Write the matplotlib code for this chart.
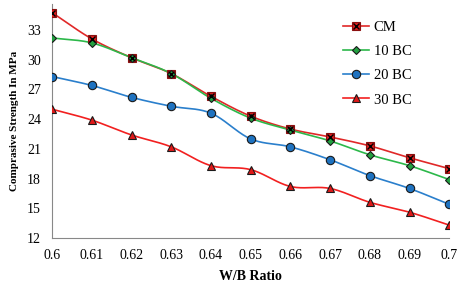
import matplotlib.pyplot as plt
import numpy as np
from matplotlib.lines import Line2D

plt.rcParams['font.family'] = ['Liberation Serif', 'DejaVu Serif']

wb_ratio = [0.60, 0.61, 0.62, 0.63, 0.64, 0.65, 0.66, 0.67, 0.68, 0.69, 0.70]
cm = [34.75, 32.1, 30.2, 28.6, 26.3, 24.3, 23.0, 22.2, 21.3, 20.1, 19.0]
bc10 = [32.2, 31.7, 30.2, 28.6, 26.1, 24.1, 22.9, 21.8, 20.4, 19.3, 17.9]
bc20 = [28.3, 27.4, 26.2, 25.3, 24.6, 22.0, 21.2, 19.9, 18.3, 17.0, 15.4]
bc30 = [25.0, 23.9, 22.4, 21.2, 19.3, 18.9, 17.2, 17.0, 15.6, 14.6, 13.3]
yticks = [12, 15, 18, 21, 24, 27, 30, 33]


def smooth(x, y, n=20):
    # catmull-rom curve through the points, like excel's smoothed line
    x = np.asarray(x, float)
    y = np.asarray(y, float)
    px = np.concatenate([[2 * x[0] - x[1]], x, [2 * x[-1] - x[-2]]])
    py = np.concatenate([[2 * y[0] - y[1]], y, [2 * y[-1] - y[-2]]])
    xs, ys = [], []
    t = np.linspace(0, 1, n, endpoint=False)
    for i in range(1, len(px) - 2):
        for p, out in ((px, xs), (py, ys)):
            p0, p1, p2, p3 = p[i - 1], p[i], p[i + 1], p[i + 2]
            out.extend(0.5 * (2 * p1 + (-p0 + p2) * t + (2 * p0 - 5 * p1 + 4 * p2 - p3) * t ** 2
                              + (-p0 + 3 * p1 - 3 * p2 + p3) * t ** 3))
    xs.append(x[-1])
    ys.append(y[-1])
    return xs, ys


fig = plt.figure(figsize=(4.66, 2.85), dpi=100)
ax = fig.add_axes([0.112, 0.165, 0.852, 0.82])

series = [
    ('CM', cm, '#E02828', dict(marker='s', ms=6, mfc='#D81E1E', mec='#8B1010')),
    ('10 BC', bc10, '#2CB84A', dict(marker='D', ms=4, mfc='#22A040', mec='#1A1A1A')),
    ('20 BC', bc20, '#2A7FCC', dict(marker='o', ms=6, mfc='#1E72C0', mec='#1A1A1A')),
    ('30 BC', bc30, '#F22020', dict(marker='^', ms=6, mfc='#E01818', mec='#1A1A1A')),
]

handles = []
for name, vals, col, mk in series:
    sx, sy = smooth(wb_ratio, vals)
    ax.plot(sx, sy, color=col, lw=1.2, zorder=2)
    ax.plot(wb_ratio, vals, ls='none', mew=0.8, zorder=3, **mk)
    h = Line2D([], [], color=col, lw=1.2, mew=0.8, **mk)
    if name == 'CM':
        ax.plot(wb_ratio, vals, ls='none', marker='x', ms=4, color='black', mew=1.0, zorder=4)
        h = (h, Line2D([], [], ls='none', marker='x', ms=4, color='black', mew=1.0))
    handles.append(h)

ax.set_xlim(0.6, 0.7)
ax.set_ylim(12, 35.6)
ax.set_xticks(wb_ratio)
ax.set_xticklabels(['0.6', '0.61', '0.62', '0.63', '0.64', '0.65', '0.66', '0.67', '0.68', '0.69', '0.7'])
ax.set_yticks(yticks)
ax.tick_params(length=0, labelsize=10, pad=8)
for s in ['top', 'right']:
    ax.spines[s].set_visible(False)
for s in ['left', 'bottom']:
    ax.spines[s].set_color('#888888')
ax.set_xlabel('W/B Ratio', fontweight='bold', fontsize=10, labelpad=6)
ax.set_ylabel('Comprasive Strength In MPa', fontweight='bold', fontsize=8, labelpad=6)

ax.legend(handles, [s[0] for s in series], loc='upper left', bbox_to_anchor=(0.70, 0.985),
          frameon=False, fontsize=10.5, labelspacing=0.75, handlelength=1.8, handletextpad=0.3)

fig.savefig('out.png', dpi=100)
